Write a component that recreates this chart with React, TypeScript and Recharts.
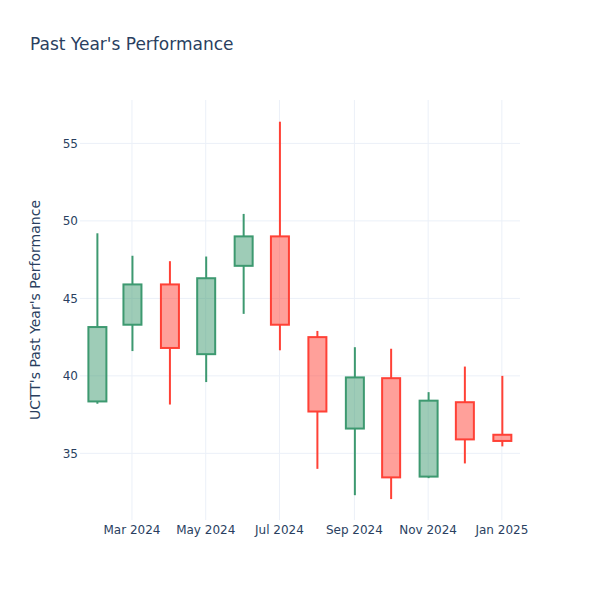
import { Bar, CartesianGrid, ComposedChart, XAxis, YAxis } from "recharts";

// monthly candles, UCTT
const months = [
  "2024-02-01", "2024-03-01", "2024-04-01", "2024-05-01", "2024-06-01", "2024-07-01",
  "2024-08-01", "2024-09-01", "2024-10-01", "2024-11-01", "2024-12-01", "2025-01-01",
];
const opens = [38.35, 43.3, 45.9, 41.4, 47.1, 49.0, 42.5, 36.6, 39.85, 33.5, 38.3, 36.2];
const highs = [49.2, 47.75, 47.4, 47.7, 50.45, 56.4, 42.9, 41.85, 41.75, 38.95, 40.6, 40.0];
const lows = [38.2, 41.6, 38.15, 39.6, 44.0, 41.65, 34.0, 32.3, 32.05, 33.4, 34.35, 35.45];
const closes = [43.15, 45.9, 41.8, 46.3, 49.0, 43.3, 37.7, 39.9, 33.45, 38.4, 35.9, 35.8];

const xTicks = ["2024-03-01", "2024-05-01", "2024-07-01", "2024-09-01", "2024-11-01", "2025-01-01"];
const yTicks = [35, 40, 45, 50, 55];
const monthNames = ["Jan", "Feb", "Mar", "Apr", "May", "Jun", "Jul", "Aug", "Sep", "Oct", "Nov", "Dec"];

const UP = "#3D9970";
const DOWN = "#FF4136";
const FONT = "'DejaVu Sans', verdana, arial, sans-serif";

const ts = (s: string) => Date.parse(s + "T00:00:00Z");

const X_DOMAIN = [ts("2024-01-18"), ts("2025-01-16")];
const Y_DOMAIN = [30.7, 57.8];

const data = months.map((m, i) => ({
  t: ts(m),
  open: opens[i],
  high: highs[i],
  low: lows[i],
  close: closes[i],
}));

function Candle(props: any) {
  const { x, y, width, height, payload } = props;
  if (!payload || height == null) return null;
  const { open, close, high, low } = payload;
  const up = close >= open;
  const color = up ? UP : DOWN;
  const pxPerUnit = height / (high - low);
  const top = y + (high - Math.max(open, close)) * pxPerUnit;
  const bottom = y + (high - Math.min(open, close)) * pxPerUnit;
  const cx = x + width / 2;
  return (
    <g>
      <line x1={cx} x2={cx} y1={y} y2={top} stroke={color} strokeWidth={2} />
      <line x1={cx} x2={cx} y1={bottom} y2={y + height} stroke={color} strokeWidth={2} />
      <rect
        x={x}
        y={top}
        width={width}
        height={Math.max(bottom - top, 1)}
        fill={color}
        fillOpacity={0.5}
        stroke={color}
        strokeWidth={2}
      />
    </g>
  );
}

const fmtDate = (v: number) => {
  const d = new Date(v);
  return `${monthNames[d.getUTCMonth()]} ${d.getUTCFullYear()}`;
};

// grid only at the tick values, no frame round the plot
const hLines = ({ offset }: any) =>
  yTicks.map((v) => offset.top + (offset.height * (Y_DOMAIN[1] - v)) / (Y_DOMAIN[1] - Y_DOMAIN[0]));
const vLines = ({ offset }: any) =>
  xTicks.map((s) => offset.left + (offset.width * (ts(s) - X_DOMAIN[0])) / (X_DOMAIN[1] - X_DOMAIN[0]));

export default function App() {
  return (
    <div style={{ position: "absolute", left: 0, top: 0, width: 600, height: 600, background: "#fff" }}>
      <div
        style={{
          position: "absolute",
          left: 30,
          top: 33,
          fontFamily: FONT,
          fontSize: 17,
          color: "#2a3f5f",
          lineHeight: "22px",
        }}
      >
        Past Year's Performance
      </div>
      <ComposedChart
        width={600}
        height={600}
        data={data}
        margin={{ top: 100, right: 80, bottom: 50, left: 30 }}
      >
        <CartesianGrid
          stroke="#EBF0F8"
          strokeWidth={1}
          horizontalCoordinatesGenerator={hLines}
          verticalCoordinatesGenerator={vLines}
        />
        <XAxis
          dataKey="t"
          type="number"
          scale="time"
          domain={X_DOMAIN}
          ticks={xTicks.map(ts)}
          tickFormatter={fmtDate}
          axisLine={false}
          tickLine={false}
          tickSize={0}
          tickMargin={5}
          height={30}
          tick={{ fill: "#2a3f5f", fontSize: 12, fontFamily: FONT }}
          allowDataOverflow
        />
        <YAxis
          type="number"
          domain={Y_DOMAIN}
          ticks={yTicks}
          axisLine={false}
          tickLine={false}
          tickSize={0}
          tickMargin={2}
          width={50}
          allowDataOverflow
          tick={{ fill: "#2a3f5f", fontSize: 12, fontFamily: FONT }}
          label={{
            value: "UCTT's Past Year's Performance",
            angle: -90,
            position: "insideLeft",
            offset: 5,
            style: { textAnchor: "middle", fill: "#2a3f5f", fontSize: 14, fontFamily: FONT },
          }}
        />
        <Bar
          dataKey={(d: any) => [d.low, d.high]}
          barSize={18}
          shape={Candle}
          isAnimationActive={false}
        />
      </ComposedChart>
    </div>
  );
}
